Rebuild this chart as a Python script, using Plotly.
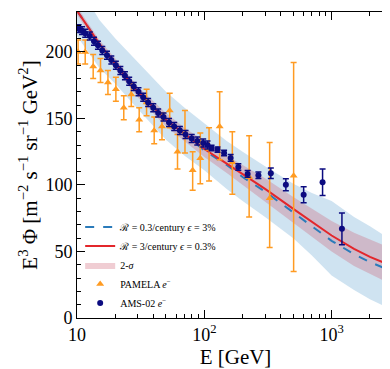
import plotly.graph_objects as go

# model curves
e_model = [10, 15, 20, 30, 50, 70, 100, 150, 200, 300, 500, 700, 1000, 1500, 2000, 3000]
flux_r3 = [231, 206, 191, 170, 149, 138, 127, 116, 108, 97, 82, 72, 62, 52, 46, 39]
flux_r03 = [231, 206, 191, 170, 149, 138, 126, 115, 106, 95, 79, 69, 58, 48, 42, 35]
sigma_hi = [234, 209, 195, 174, 154, 143, 133, 122, 115, 105, 91, 82, 73, 64, 59, 52]
sigma_lo = [228, 203, 187, 166, 144, 133, 121, 109, 100, 88, 72, 61, 50, 39, 33, 25]
band_hi = [252, 224, 210, 192, 170, 158, 146, 133, 125, 114, 101, 94, 88, 76, 69, 58]
band_lo = [212, 188, 176, 157, 134, 122, 111, 97, 88, 76, 60, 47, 32, 21, 14, 6]

# PAMELA electrons
e_pam = [10.2, 11.6, 13.4, 15.3, 17.5, 20.2, 23.3, 26.7, 30.8, 35.2, 40.4, 46.5,
         53.5, 61.6, 70.5, 81, 93, 109, 132, 166, 225, 326, 503]
f_pam = [200, 200, 189, 186, 177, 172, 158, 168, 149, 162, 141, 144,
         156, 125, 139, 111, 120, 127, 144, 117, 106, 90, 107]
err_pam_up = [9, 9, 9, 9, 9, 9, 9, 9, 9, 10, 10, 10,
              13, 13, 17, 14, 19, 16, 26, 23, 31, 42, 85]
err_pam_dn = [9, 9, 9, 9, 9, 9, 9, 9, 9, 10, 10, 10,
              13, 13, 15, 15, 19, 24, 25, 24, 30, 37, 72]

# AMS-02 electrons
e_ams = [10.3, 10.95, 11.6, 12.6, 13.6, 14.6, 15.8, 17.2, 18.6, 20.2, 21.9, 23.8,
         25.7, 27.9, 30.4, 33.1, 36.2, 39.7, 43.4, 47.8, 52.8, 58.0, 64.3, 71.2,
         79.6, 88.1, 98.0, 106, 114, 127, 143, 161, 185, 219, 266, 333, 437, 603,
         849, 1205]
f_ams = [217.5, 216, 214, 212, 208, 205, 201, 197.5, 194, 190, 186, 182,
         178, 174, 170, 166, 162, 158, 154, 151, 147, 144, 141, 138,
         135, 133, 131.5, 130, 127.8, 126.6, 124, 120.3, 113.5, 108.3, 107.3, 108.8, 100.2, 92.7,
         102, 67]
err_ams = [3, 3, 3, 3, 3, 3, 3, 3, 3, 3, 3, 3,
           3, 3, 3, 3, 3, 3, 3, 3, 3, 3, 3, 3,
           3, 3, 3, 3, 2, 2, 2, 2.5, 2.5, 2.5, 2.5, 4, 4.5, 6,
           10, 12]

fig = go.Figure()

# wide blue band
fig.add_trace(go.Scatter(x=e_model, y=band_lo, mode="lines", line=dict(width=0),
                         showlegend=False, hoverinfo="skip"))
fig.add_trace(go.Scatter(x=e_model, y=band_hi, mode="lines", line=dict(width=0),
                         fill="tonexty", fillcolor="rgba(160,200,228,0.5)",
                         showlegend=False, hoverinfo="skip"))
# 2-sigma band
fig.add_trace(go.Scatter(x=e_model, y=sigma_lo, mode="lines", line=dict(width=0),
                         showlegend=False, hoverinfo="skip"))
fig.add_trace(go.Scatter(x=e_model, y=sigma_hi, mode="lines", line=dict(width=0),
                         fill="tonexty", fillcolor="rgba(205,90,110,0.3)",
                         name="2-<i>σ</i>", legendrank=3))

fig.add_trace(go.Scatter(x=e_model, y=flux_r03, mode="lines",
                         line=dict(color="#2b7bba", width=2, dash="dash"),
                         name="ℛ = 0.3/century <i>ϵ</i> = 3%", legendrank=1))
fig.add_trace(go.Scatter(x=e_model, y=flux_r3, mode="lines",
                         line=dict(color="#e3262b", width=2),
                         name="ℛ = 3/century <i>ϵ</i> = 0.3%", legendrank=2))

fig.add_trace(go.Scatter(x=e_pam, y=f_pam, mode="markers",
                         marker=dict(symbol="triangle-up", size=7, color="#ff9b22"),
                         error_y=dict(type="data", array=err_pam_up, arrayminus=err_pam_dn,
                                      color="#ff9b22", thickness=1.5, width=3),
                         name="PAMELA <i>e</i><sup>−</sup>", legendrank=4))
fig.add_trace(go.Scatter(x=e_ams, y=f_ams, mode="markers",
                         marker=dict(symbol="circle", size=6, color="#0b0b80"),
                         error_y=dict(type="data", array=err_ams,
                                      color="#0b0b80", thickness=1.5, width=3),
                         name="AMS-02 <i>e</i><sup>−</sup>", legendrank=5))

axis_common = dict(showline=True, linecolor="black", linewidth=1, mirror="allticks",
                   ticks="inside", tickcolor="black", showgrid=False, zeroline=False)

fig.update_xaxes(type="log", range=[1, 3.49],
                 tickvals=[10, 100, 1000], ticktext=["10", "10<sup>2</sup>", "10<sup>3</sup>"],
                 ticklen=8,
                 minor=dict(ticks="inside", ticklen=4, tickcolor="black",
                            tickvals=[20, 30, 40, 50, 60, 70, 80, 90,
                                      200, 300, 400, 500, 600, 700, 800, 900, 2000, 3000]),
                 title=dict(text="E [GeV]", standoff=4, font=dict(size=21)),
                 **axis_common)
fig.update_yaxes(range=[0, 230], tickvals=[0, 50, 100, 150, 200], ticklen=8,
                 minor=dict(ticks="inside", ticklen=4, tickcolor="black", dtick=10),
                 title=dict(text="E<sup>3</sup> Φ [m<sup>−2</sup> s<sup>−1</sup> sr<sup>−1</sup> GeV<sup>2</sup>]",
                            standoff=2, font=dict(size=21)),
                 **axis_common)

fig.update_layout(
    width=390, height=369,
    margin=dict(l=69, r=4, t=4, b=59),
    paper_bgcolor="white", plot_bgcolor="white",
    font=dict(family="Liberation Serif", size=18, color="black"),
    legend=dict(x=0.01, y=0.345, xanchor="left", yanchor="top",
                bgcolor="rgba(0,0,0,0)", font=dict(size=10),
                traceorder="normal", tracegroupgap=0, itemwidth=30),
    showlegend=True,
)

fig.write_html("out.html")
